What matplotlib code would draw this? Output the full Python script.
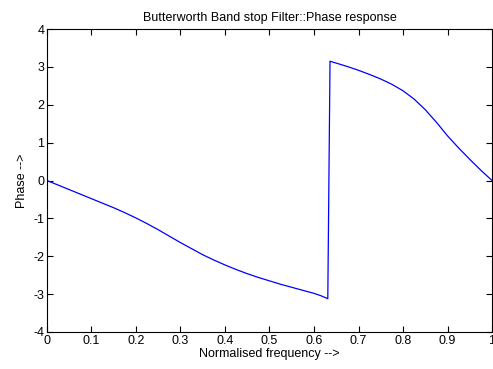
import matplotlib.pyplot as plt

# data
freq = [0, 0.025, 0.05, 0.075, 0.1, 0.125, 0.15, 0.175, 0.2, 0.225, 0.25, 0.275, 0.3, 0.325,
        0.35, 0.375, 0.4, 0.425, 0.45, 0.475, 0.5, 0.525, 0.55, 0.575, 0.6, 0.615, 0.631,
        0.636, 0.65, 0.675, 0.7, 0.725, 0.75, 0.775, 0.8, 0.825, 0.85, 0.875, 0.9, 0.925,
        0.95, 0.975, 1.0]
phase = [0, -0.12, -0.24, -0.36, -0.48, -0.60, -0.72, -0.85, -0.99, -1.14, -1.30, -1.47, -1.64, -1.80,
         -1.96, -2.10, -2.23, -2.35, -2.46, -2.56, -2.65, -2.74, -2.82, -2.90, -2.98, -3.04, -3.12,
         3.15, 3.10, 3.01, 2.91, 2.80, 2.68, 2.54, 2.37, 2.15, 1.87, 1.54, 1.18, 0.86,
         0.56, 0.27, 0.0]
xticks = [0, 0.1, 0.2, 0.3, 0.4, 0.5, 0.6, 0.7, 0.8, 0.9, 1]
xticklabels = ['0', '0.1', '0.2', '0.3', '0.4', '0.5', '0.6', '0.7', '0.8', '0.9', '1']
yticks = [-4, -3, -2, -1, 0, 1, 2, 3, 4]

plt.rcParams['font.family'] = ['Liberation Sans', 'DejaVu Sans']
plt.rcParams['axes.unicode_minus'] = False

fig = plt.figure(figsize=(4.93, 3.69), dpi=100)
ax = fig.add_axes([0.0953, 0.1003, 0.9027, 0.821])
ax.plot(freq, phase, color='#0000ff', linewidth=0.9)

ax.set_xlim(0, 1)
ax.set_ylim(-4, 4)
ax.set_xticks(xticks)
ax.set_xticklabels(xticklabels)
ax.set_yticks(yticks)
ax.tick_params(direction='in', top=True, right=True, labelsize=9, length=4, width=0.8, pad=2)
for s in ax.spines.values():
    s.set_linewidth(0.8)

ax.set_xlabel('Normalised frequency -->', fontsize=9, labelpad=1)
ax.set_ylabel('Phase -->', fontsize=9, labelpad=4)
ax.set_title('Butterworth Band stop Filter::Phase response', fontsize=9, pad=6)

fig.savefig('out.png', dpi=100)
